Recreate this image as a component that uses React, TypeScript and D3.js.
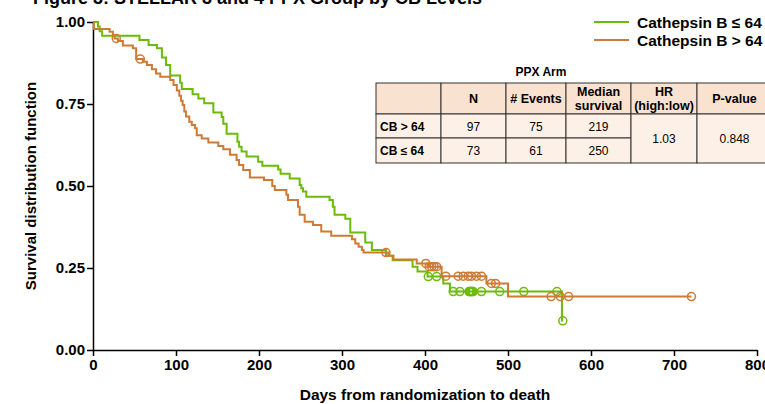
import React, { useEffect, useRef } from 'react';
import * as d3 from 'd3';

// Kaplan-Meier steps: [day, survival]
const lowSteps: [number, number][] = [
  [0, 1], [6, 0.986], [8, 0.972], [11, 0.958], [56, 0.945], [67, 0.93], [77, 0.92],
  [83, 0.892], [88, 0.869], [93, 0.837], [105, 0.815], [107, 0.796], [120, 0.78],
  [127, 0.767], [134, 0.752], [145, 0.724], [155, 0.71], [157, 0.69], [161, 0.659],
  [174, 0.635], [176, 0.62], [179, 0.605], [185, 0.59], [199, 0.574], [204, 0.562],
  [223, 0.55], [226, 0.537], [237, 0.523], [249, 0.503], [251, 0.493], [253, 0.483],
  [257, 0.467], [285, 0.457], [289, 0.437], [291, 0.412], [304, 0.4], [310, 0.358],
  [328, 0.328], [336, 0.305], [353, 0.287], [361, 0.274], [385, 0.254], [391, 0.239],
  [403, 0.224], [422, 0.203], [430, 0.178], [565, 0.089],
];
const highSteps: [number, number][] = [
  [0, 1], [1, 0.979], [20, 0.97], [24, 0.96], [26, 0.95], [30, 0.942], [36, 0.928],
  [48, 0.92], [52, 0.887], [60, 0.879], [65, 0.869], [71, 0.856], [76, 0.843],
  [81, 0.833], [93, 0.823], [97, 0.808], [101, 0.791], [104, 0.775], [106, 0.76],
  [108, 0.747], [110, 0.727], [112, 0.712], [116, 0.696], [119, 0.686], [123, 0.676],
  [125, 0.655], [131, 0.645], [139, 0.633], [151, 0.622], [157, 0.612], [165, 0.595],
  [173, 0.579], [176, 0.564], [181, 0.549], [189, 0.526], [206, 0.518], [216, 0.5],
  [219, 0.488], [233, 0.473], [235, 0.457], [247, 0.437], [249, 0.412], [255, 0.391],
  [265, 0.381], [275, 0.361], [287, 0.348], [312, 0.338], [316, 0.325], [320, 0.315],
  [324, 0.305], [326, 0.297], [356, 0.287], [362, 0.276], [390, 0.264], [403, 0.254],
  [420, 0.225], [474, 0.203], [500, 0.163],
];
const lowCensored = [404, 414, 434, 442, 453, 454, 455, 456, 457, 458, 468, 490, 519, 559, 566];
const highCensored = [28, 57, 353, 401, 405, 408, 411, 414, 425, 440, 446, 452, 456, 462, 468, 480, 485, 552, 563, 573, 721];

const xTicks = [0, 100, 200, 300, 400, 500, 600, 700, 800];
const yTicks = [0, 0.25, 0.5, 0.75, 1];
const legendLabels = ['Cathepsin B ≤ 64', 'Cathepsin B > 64'];

const tableHeader = ['', 'N', '# Events', 'Median|survival', 'HR|(high:low)', 'P-value'];
const tableRowLabels = ['CB > 64', 'CB ≤ 64'];
const tableN = ['97', '73'];
const tableEvents = ['75', '61'];
const tableMedian = ['219', '250'];
const tableHR = '1.03';
const tablePValue = '0.848';

const GREEN = '#6cbb0a';
const ORANGE = '#cf7a34';
const FONT = '"Liberation Sans", Arial, sans-serif';

const survAt = (steps: [number, number][], t: number) => {
  let s = 1;
  for (const [d, v] of steps) if (d <= t) s = v;
  return s;
};

const App = () => {
  const svgRef = useRef<SVGSVGElement>(null);

  useEffect(() => {
    const svg = d3.select(svgRef.current);
    svg.selectAll('*').remove();

    const x = d3.scaleLinear().domain([0, 800]).range([93, 757]);
    const y = d3.scaleLinear().domain([0, 1]).range([350, 22]);

    // title (cut off at the top in the original)
    svg.append('text')
      .attr('x', 33).attr('y', 3.5)
      .attr('font-family', FONT).attr('font-weight', 'bold').attr('font-size', 18)
      .text('Figure 3: STELLAR 3 and 4 PPX Group by CB Levels');

    // axes
    const xAxis = svg.append('g')
      .attr('transform', `translate(0,${y(0)})`)
      .call(d3.axisBottom(x).tickValues(xTicks).tickSize(6).tickSizeOuter(0).tickPadding(3));
    const yAxis = svg.append('g')
      .attr('transform', `translate(${x(0)},0)`)
      .call(d3.axisLeft(y).tickValues(yTicks).tickFormat(d3.format('.2f')).tickSize(6).tickSizeOuter(0).tickPadding(2));
    [xAxis, yAxis].forEach(a => {
      a.select('.domain').attr('stroke', '#000').attr('stroke-width', 1.5);
      a.selectAll('.tick line').attr('stroke', '#000').attr('stroke-width', 1.5);
      a.selectAll('.tick text')
        .attr('font-family', FONT).attr('font-weight', 'bold').attr('font-size', 15).attr('fill', '#000');
    });

    svg.append('text')
      .attr('x', 425).attr('y', 400)
      .attr('text-anchor', 'middle')
      .attr('font-family', FONT).attr('font-weight', 'bold').attr('font-size', 15.5)
      .text('Days from randomization to death');
    svg.append('text')
      .attr('transform', `translate(36,${y(0.5)}) rotate(-90)`)
      .attr('text-anchor', 'middle')
      .attr('font-family', FONT).attr('font-weight', 'bold').attr('font-size', 15)
      .text('Survival distribution function');

    // curves
    const line = d3.line<[number, number]>()
      .x(d => x(d[0]))
      .y(d => y(d[1]))
      .curve(d3.curveStepAfter);

    const groups = [
      { steps: lowSteps, censored: lowCensored, color: GREEN },
      { steps: highSteps, censored: highCensored, color: ORANGE },
    ];
    groups.forEach(g => {
      const end = d3.max(g.censored) as number;
      const pts: [number, number][] = [...g.steps, [end, survAt(g.steps, end)]];
      svg.append('path')
        .attr('d', line(pts))
        .attr('fill', 'none')
        .attr('stroke', g.color)
        .attr('stroke-width', 2);
      svg.append('g')
        .selectAll('circle')
        .data(g.censored)
        .enter()
        .append('circle')
        .attr('cx', d => x(d))
        .attr('cy', d => y(survAt(g.steps, d)))
        .attr('r', 4)
        .attr('fill', 'none')
        .attr('stroke', g.color)
        .attr('stroke-width', 1.5);
    });

    // legend
    const legend = svg.append('g');
    [GREEN, ORANGE].forEach((c, i) => {
      legend.append('line')
        .attr('x1', 594).attr('x2', 629)
        .attr('y1', 22 + i * 18).attr('y2', 22 + i * 18)
        .attr('stroke', c).attr('stroke-width', 2);
      legend.append('text')
        .attr('x', 637).attr('y', 27.5 + i * 18)
        .attr('font-family', FONT).attr('font-weight', 'bold').attr('font-size', 15.5)
        .text(legendLabels[i]);
    });

    // table
    const colX = [376, 441, 506, 566, 631, 697, 772];
    const rowY = [83, 114, 138, 163];
    const tbl = svg.append('g').attr('font-family', FONT).attr('font-size', 12);
    tbl.append('text')
      .attr('x', 541).attr('y', 76)
      .attr('text-anchor', 'middle').attr('font-weight', 'bold')
      .text('PPX Arm');

    const cell = (x0: number, x1: number, y0: number, y1: number, fill: string) =>
      tbl.append('rect')
        .attr('x', x0).attr('y', y0)
        .attr('width', x1 - x0).attr('height', y1 - y0)
        .attr('fill', fill).attr('stroke', '#333').attr('stroke-width', 1);

    tableHeader.forEach((h, i) => {
      cell(colX[i], colX[i + 1], rowY[0], rowY[1], '#f9e2cf');
      const lines = h.split('|');
      const cx = (colX[i] + colX[i + 1]) / 2;
      const cy = (rowY[0] + rowY[1]) / 2;
      lines.forEach((l, j) => {
        tbl.append('text')
          .attr('x', cx).attr('y', cy + 4.5 + (j - (lines.length - 1) / 2) * 13.5)
          .attr('text-anchor', 'middle').attr('font-weight', 'bold').attr('font-size', 12.5)
          .text(l);
      });
    });

    tableRowLabels.forEach((lab, r) => {
      const y0 = rowY[r + 1];
      const y1 = rowY[r + 2];
      const cy = (y0 + y1) / 2 + 4.5;
      cell(colX[0], colX[1], y0, y1, '#fdf1e7');
      tbl.append('text').attr('x', colX[0] + 4).attr('y', cy).attr('font-weight', 'bold').text(lab);
      [tableN[r], tableEvents[r], tableMedian[r]].forEach((v, c) => {
        cell(colX[c + 1], colX[c + 2], y0, y1, '#fdf1e7');
        tbl.append('text')
          .attr('x', (colX[c + 1] + colX[c + 2]) / 2).attr('y', cy)
          .attr('text-anchor', 'middle')
          .text(v);
      });
    });
    [tableHR, tablePValue].forEach((v, c) => {
      cell(colX[c + 4], colX[c + 5], rowY[1], rowY[3], '#fdf1e7');
      tbl.append('text')
        .attr('x', (colX[c + 4] + colX[c + 5]) / 2).attr('y', (rowY[1] + rowY[3]) / 2 + 4.5)
        .attr('text-anchor', 'middle')
        .text(v);
    });
  }, []);

  return (
    <svg
      ref={svgRef}
      width={765}
      height={404}
      style={{ position: 'absolute', left: 0, top: 0, background: '#fff' }}
    />
  );
};

export default App;
